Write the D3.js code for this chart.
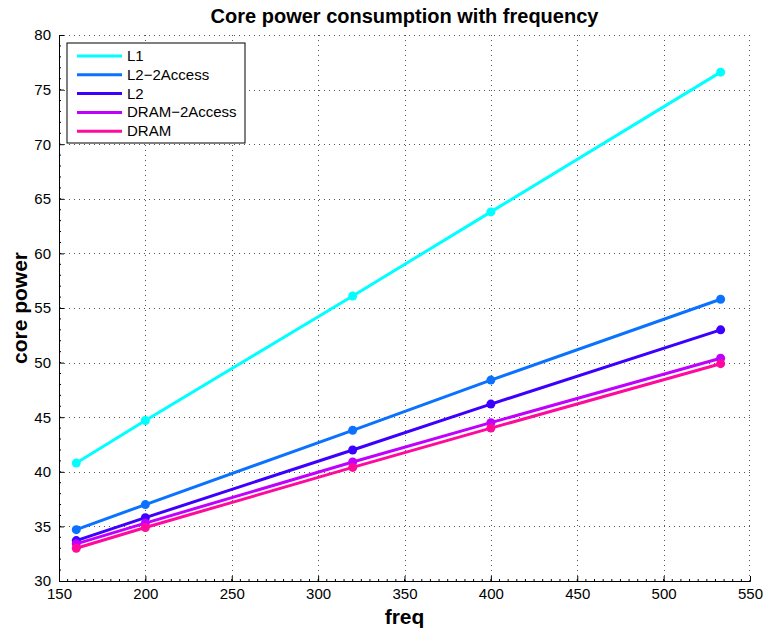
<!DOCTYPE html>
<html>
<head>
<meta charset="utf-8">
<script src="https://cdn.jsdelivr.net/npm/d3@7/dist/d3.min.js"></script>
<style>
  body { margin: 0; background: #fff; }
  svg { display: block; font-family: "Liberation Sans", Arial, sans-serif; }
</style>
</head>
<body>
<div id="chart"></div>
<script>
// frequency points (MHz)
const freqs = [160, 200, 320, 400, 533];

const seriesNames = ['L1', 'L2\u22122Access', 'L2', 'DRAM\u22122Access', 'DRAM'];
const seriesColors = ['#00ffff', '#0a72ff', '#3c00ff', '#c000ff', '#ff0a9c'];

// core power
const l1 = [40.8, 44.7, 56.1, 63.8, 76.6];
const l2Access2 = [34.7, 37.0, 43.8, 48.4, 55.8];
const l2 = [33.7, 35.8, 42.0, 46.2, 53.0];
const dramAccess2 = [33.4, 35.3, 40.9, 44.5, 50.4];
const dram = [33.0, 34.9, 40.4, 44.0, 49.9];

const xTicks = [150, 200, 250, 300, 350, 400, 450, 500, 550];
const yTicks = [30, 35, 40, 45, 50, 55, 60, 65, 70, 75, 80];

const seriesValues = [l1, l2Access2, l2, dramAccess2, dram];

const width = 763, height = 629;
const margin = { top: 35, right: 13, bottom: 48, left: 59 };

const svg = d3.select('#chart').append('svg')
    .attr('width', width)
    .attr('height', height);

const x = d3.scaleLinear().domain([150, 550]).range([margin.left, width - margin.right]);
const y = d3.scaleLinear().domain([30, 80]).range([height - margin.bottom, margin.top]);

const x0 = x.range()[0], x1 = x.range()[1];
const y0 = y.range()[0], y1 = y.range()[1];

// dotted grid
const grid = svg.append('g').attr('stroke', '#555').attr('stroke-width', 1)
    .attr('stroke-dasharray', '1,4');
grid.selectAll('line.gx').data(xTicks.slice(1, -1)).enter().append('line')
    .attr('x1', d => Math.round(x(d)) + 0.5).attr('x2', d => Math.round(x(d)) + 0.5)
    .attr('y1', y0).attr('y2', y1);
grid.selectAll('line.gy').data(yTicks.slice(1, -1)).enter().append('line')
    .attr('y1', d => Math.round(y(d)) + 0.5).attr('y2', d => Math.round(y(d)) + 0.5)
    .attr('x1', x0).attr('x2', x1);
// top/right dotted frame
grid.append('line').attr('x1', x0).attr('x2', x1).attr('y1', y1 + 0.5).attr('y2', y1 + 0.5);
grid.append('line').attr('x1', x1 - 0.5).attr('x2', x1 - 0.5).attr('y1', y0).attr('y2', y1);

// axes
const xAxis = d3.axisBottom(x).tickValues(xTicks).tickSize(-5).tickPadding(7);
const yAxis = d3.axisLeft(y).tickValues(yTicks).tickSize(-5).tickPadding(8);

const gx = svg.append('g').attr('transform', `translate(0,${y0})`).call(xAxis);
const gy = svg.append('g').attr('transform', `translate(${x0},0)`).call(yAxis);
[gx, gy].forEach(g => {
    g.select('.domain').attr('stroke', '#000');
    g.selectAll('.tick line').attr('stroke', '#000');
    g.selectAll('.tick text').attr('fill', '#000')
        .style('font-size', '15px')
        .style('font-family', '"Liberation Sans", Arial, sans-serif');
});

// minor ticks
const minor = svg.append('g').attr('stroke', '#000').attr('stroke-width', 1);
minor.selectAll('line.mx').data(d3.range(155, 550, 5)).enter().append('line')
    .attr('x1', d => x(d)).attr('x2', d => x(d)).attr('y1', y0).attr('y2', y0 - 2);
minor.selectAll('line.my').data(d3.range(31, 80, 1)).enter().append('line')
    .attr('y1', d => y(d)).attr('y2', d => y(d)).attr('x1', x0).attr('x2', x0 + 2);

// lines and markers
const line = d3.line().x((d, i) => x(freqs[i])).y(d => y(d));
seriesValues.forEach((vals, s) => {
    const g = svg.append('g');
    g.append('path')
        .attr('d', line(vals))
        .attr('fill', 'none')
        .attr('stroke', seriesColors[s])
        .attr('stroke-width', 3);
    g.selectAll('circle').data(vals).enter().append('circle')
        .attr('cx', (d, i) => x(freqs[i]))
        .attr('cy', d => y(d))
        .attr('r', 4.5)
        .attr('fill', seriesColors[s]);
});

// legend
const legend = svg.append('g').attr('transform', 'translate(67,43)');
legend.append('rect')
    .attr('width', 178).attr('height', 100)
    .attr('fill', '#fff').attr('stroke', '#000').attr('stroke-width', 1);
seriesNames.forEach((name, i) => {
    const ly = 13 + i * 18.8;
    legend.append('line')
        .attr('x1', 10).attr('x2', 55).attr('y1', ly).attr('y2', ly)
        .attr('stroke', seriesColors[i]).attr('stroke-width', 3);
    legend.append('text')
        .attr('x', 60).attr('y', ly + 5)
        .style('font-size', '15px')
        .text(name);
});

// titles
svg.append('text')
    .attr('x', (x0 + x1) / 2).attr('y', 23)
    .attr('text-anchor', 'middle')
    .style('font-size', '20px').style('font-weight', 'bold')
    .text('Core power consumption with frequency');

svg.append('text')
    .attr('x', (x0 + x1) / 2).attr('y', 624)
    .attr('text-anchor', 'middle')
    .style('font-size', '21px').style('font-weight', 'bold')
    .text('freq');

svg.append('text')
    .attr('transform', `translate(27,${(y0 + y1) / 2}) rotate(-90)`)
    .attr('text-anchor', 'middle')
    .style('font-size', '21px').style('font-weight', 'bold')
    .text('core power');
</script>
</body>
</html>
